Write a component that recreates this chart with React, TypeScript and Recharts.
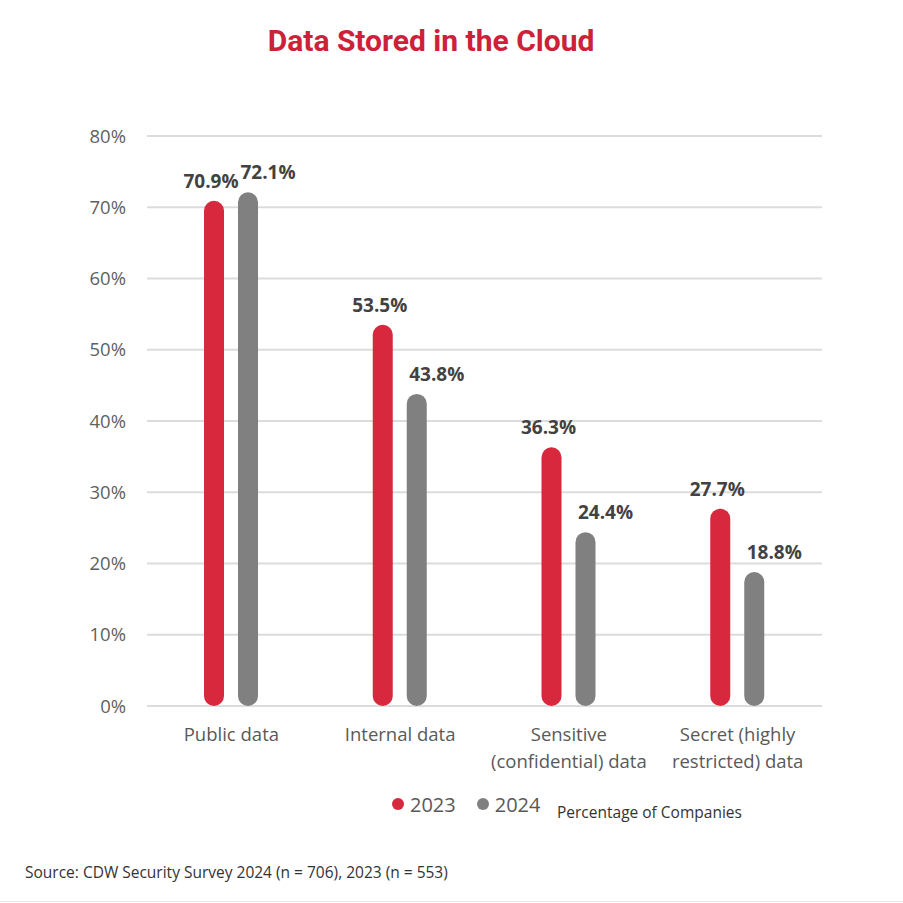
import React from "react"
import { BarChart, Bar, XAxis, YAxis, CartesianGrid, LabelList } from "recharts"

const categories = ["Public data", "Internal data", "Sensitive\n(confidential) data", "Secret (highly\nrestricted) data"]
const values2023 = [70.9, 53.5, 36.3, 27.7]
const values2024 = [72.1, 43.8, 24.4, 18.8]
const yTicks = [0, 10, 20, 30, 40, 50, 60, 70, 80]

const series = [
  { key: "y2023", name: "2023", color: "#d7283d" },
  { key: "y2024", name: "2024", color: "#808080" },
]

const data = categories.map((c, i) => ({ name: c, y2023: values2023[i], y2024: values2024[i] }))

const FONT = "'Open Sans', sans-serif"

function CategoryTick(props: any) {
  const { x, y, payload } = props
  const lines = String(payload.value).split("\n")
  return (
    <text textAnchor="middle" fill="#595959" fontSize={18.5} fontFamily={FONT}>
      {lines.map((l, i) => (
        <tspan key={i} x={x} y={y + 27 + i * 27}>
          {l}
        </tspan>
      ))}
    </text>
  )
}

// labels of the grey series sit a bit to the right, as in the original
const valueLabel = (shift: number) => (props: any) => {
  const { x, y, width, value } = props
  return (
    <text
      x={x + width / 2 + shift}
      y={y - 13}
      textAnchor="middle"
      fill="#424242"
      fontSize={19}
      fontWeight="bold"
      fontFamily={FONT}
    >
      {value}%
    </text>
  )
}

export default function App() {
  return (
    <div style={{ position: "absolute", left: 0, top: 0, width: 903, height: 903, background: "#fff", fontFamily: FONT }}>
      <div
        style={{
          position: "absolute",
          left: 0,
          top: 26,
          width: 862,
          textAlign: "center",
          color: "#cc2139",
          fontFamily: "Roboto, sans-serif",
          fontWeight: 700,
          fontSize: 30,
          lineHeight: 1,
        }}
      >
        Data Stored in the Cloud
      </div>

      <div style={{ position: "absolute", left: 0, top: 0 }}>
        <BarChart
          width={903}
          height={800}
          data={data}
          margin={{ top: 136, right: 81, left: 0, bottom: 24 }}
          barSize={20}
          barGap={14}
        >
          <CartesianGrid vertical={false} stroke="#dcdcdc" strokeWidth={2} />
          <XAxis dataKey="name" axisLine={false} tickLine={false} height={70} interval={0} tick={<CategoryTick />} />
          <YAxis
            width={147}
            domain={[0, 80]}
            ticks={yTicks}
            axisLine={false}
            tickLine={false}
            tickMargin={15}
            tickFormatter={(v) => `${v}%`}
            tick={{ fill: "#5f5f5f", fontSize: 18.5, fontFamily: FONT }}
          />
          {series.map((s, i) => (
            <Bar key={s.key} dataKey={s.key} name={s.name} fill={s.color} radius={10} isAnimationActive={false}>
              <LabelList dataKey={s.key} content={valueLabel(i === 0 ? -3 : 20)} />
            </Bar>
          ))}
        </BarChart>
      </div>

      <div style={{ position: "absolute", left: 392, top: 791, display: "flex", alignItems: "center", height: 26 }}>
        {series.map((s) => (
          <div key={s.key} style={{ display: "flex", alignItems: "center", marginRight: 21 }}>
            <span style={{ width: 12, height: 12, borderRadius: 6, background: s.color, display: "inline-block", marginRight: 6 }} />
            <span style={{ color: "#595959", fontSize: 20 }}>{s.name}</span>
          </div>
        ))}
      </div>
      <div style={{ position: "absolute", left: 557, top: 801, color: "#333", fontSize: 15.5 }}>Percentage of Companies</div>

      <div style={{ position: "absolute", left: 25, top: 861, color: "#333", fontSize: 15.5 }}>
        Source: CDW Security Survey 2024 (n = 706), 2023 (n = 553)
      </div>
      <div style={{ position: "absolute", left: 0, top: 901, width: 903, height: 1, background: "#e6e6e6" }} />
    </div>
  )
}
